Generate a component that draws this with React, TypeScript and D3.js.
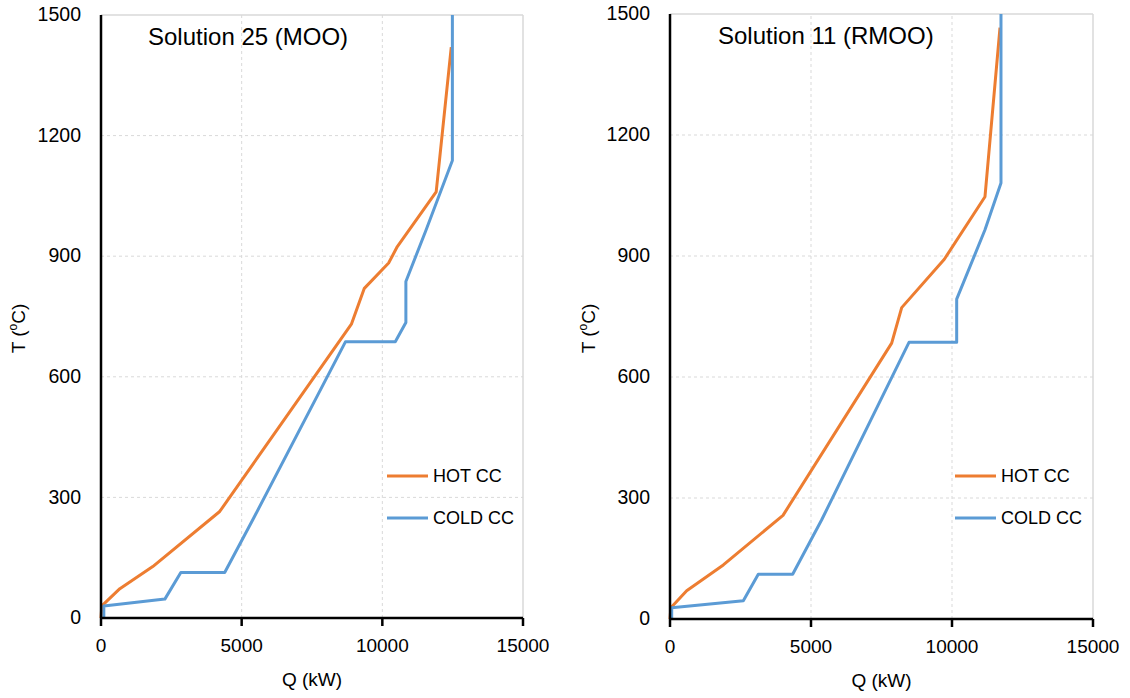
import React from "react";
import * as d3 from "d3";

const qTicks = [0, 5000, 10000, 15000];
const tTicks = [0, 300, 600, 900, 1200, 1500];
const legendLabels = ["HOT CC", "COLD CC"];

// Solution 25 (MOO)
const mooHotQ = [0, 30, 670, 1840, 4220, 8900, 9360, 10224, 10533, 11914, 12450];
const mooHotT = [0, 30, 73, 128, 265, 731, 820, 883, 924, 1060, 1420];
const mooColdQ = [100, 100, 2270, 2837, 4397, 5400, 8688, 10460, 10837, 10837, 11548, 12490, 12490];
const mooColdT = [0, 30, 47, 113, 113, 245, 687, 687, 735, 837, 964, 1138, 1500];

// Solution 11 (RMOO)
const rmooHotQ = [0, 30, 591, 1891, 4007, 7861, 8216, 9728, 11170, 11702];
const rmooHotT = [0, 28, 70, 134, 257, 684, 772, 892, 1047, 1466];
const rmooColdQ = [60, 60, 2600, 3131, 4350, 5380, 8475, 10166, 10166, 11170, 11737, 11737];
const rmooColdT = [0, 28, 45, 111, 111, 246, 686, 686, 793, 965, 1081, 1500];

const HOT = "#ED7D31";
const COLD = "#5B9BD5";
const FONT = "'Liberation Sans', Arial, sans-serif";

type Pt = [number, number];
const zip = (q: number[], t: number[]): Pt[] => q.map((v, i) => [v, t[i]]);

interface PanelProps {
  x0: number;
  x1: number;
  yTop: number;
  yBot: number;
  title: string;
  titleX: number;
  hot: Pt[];
  cold: Pt[];
  legendX: number;
  ylabelX: number;
}

function Panel(p: PanelProps) {
  const x = d3.scaleLinear().domain([0, 15000]).range([p.x0, p.x1]);
  const y = d3.scaleLinear().domain([0, 1500]).range([p.yBot, p.yTop]);
  const line = d3
    .line<Pt>()
    .x((d) => x(d[0]))
    .y((d) => y(d[1]));
  return (
    <g fontFamily={FONT}>
      {/* grid */}
      {tTicks.slice(1, -1).map((t) => (
        <line key={"gy" + t} x1={x(0)} x2={x(15000)} y1={y(t)} y2={y(t)} stroke="#d9d9d9" strokeWidth={1} strokeDasharray="3,3" />
      ))}
      {qTicks.slice(1, -1).map((q) => (
        <line key={"gx" + q} x1={x(q)} x2={x(q)} y1={y(0)} y2={y(1500)} stroke="#d9d9d9" strokeWidth={1} strokeDasharray="3,3" />
      ))}
      <line x1={x(0)} x2={x(15000)} y1={y(1500)} y2={y(1500)} stroke="#d9d9d9" strokeWidth={1.5} />
      <line x1={x(15000)} x2={x(15000)} y1={y(0)} y2={y(1500)} stroke="#d9d9d9" strokeWidth={1.5} />
      {/* series */}
      <path d={line(p.hot) || ""} fill="none" stroke={HOT} strokeWidth={3} strokeLinejoin="round" />
      <path d={line(p.cold) || ""} fill="none" stroke={COLD} strokeWidth={3} strokeLinejoin="round" />
      {/* axes */}
      <line x1={x(0)} x2={x(0)} y1={y(1500)} y2={y(0)} stroke="#000" strokeWidth={2.5} />
      <line x1={x(0) - 1} x2={x(15000)} y1={y(0)} y2={y(0)} stroke="#000" strokeWidth={2.5} />
      {qTicks.map((q) => (
        <line key={"tx" + q} x1={x(q)} x2={x(q)} y1={y(0)} y2={y(0) + 8} stroke="#000" strokeWidth={2.5} />
      ))}
      {qTicks.map((q) => (
        <text key={"lx" + q} x={x(q)} y={y(0) + 29} fontSize={19} textAnchor="middle" dominantBaseline="middle" fill="#000">
          {q}
        </text>
      ))}
      {tTicks.map((t) => (
        <text key={"ly" + t} x={x(0) - 20} y={y(t) + 1} fontSize={19.5} textAnchor="end" dominantBaseline="middle" fill="#000">
          {t}
        </text>
      ))}
      <text x={(x(0) + x(15000)) / 2} y={y(0) + 63} fontSize={19} textAnchor="middle" dominantBaseline="middle" fill="#000">
        Q (kW)
      </text>
      <text transform={`translate(${p.ylabelX},${(y(0) + y(1500)) / 2 + 12}) rotate(-90)`} fontSize={19} textAnchor="middle" dominantBaseline="middle" fill="#000">
        T (<tspan fontSize={12} dy={-6}>o</tspan>
        <tspan dy={6}>C)</tspan>
      </text>
      <text x={p.titleX} y={y(1500) + 24} fontSize={24} dominantBaseline="middle" fill="#000">
        {p.title}
      </text>
      {/* legend */}
      <line x1={p.legendX} x2={p.legendX + 41} y1={476} y2={476} stroke={HOT} strokeWidth={3} />
      <text x={p.legendX + 46} y={477} fontSize={18} dominantBaseline="middle" fill="#000">
        {legendLabels[0]}
      </text>
      <line x1={p.legendX} x2={p.legendX + 41} y1={518} y2={518} stroke={COLD} strokeWidth={3} />
      <text x={p.legendX + 46} y={519} fontSize={18} dominantBaseline="middle" fill="#000">
        {legendLabels[1]}
      </text>
    </g>
  );
}

export default function App() {
  return (
    <div style={{ position: "fixed", left: 0, top: 0, width: 1130, height: 698, background: "#fff" }}>
      <svg width={1130} height={698} viewBox="0 0 1130 698">
        <rect width={1130} height={698} fill="#fff" />
        <Panel
          x0={101}
          x1={523}
          yTop={15}
          yBot={618}
          title="Solution 25 (MOO)"
          titleX={148}
          hot={zip(mooHotQ, mooHotT)}
          cold={zip(mooColdQ, mooColdT)}
          legendX={387}
          ylabelX={20}
        />
        <Panel
          x0={670}
          x1={1093}
          yTop={14}
          yBot={619}
          title="Solution 11 (RMOO)"
          titleX={718}
          hot={zip(rmooHotQ, rmooHotT)}
          cold={zip(rmooColdQ, rmooColdT)}
          legendX={955}
          ylabelX={590}
        />
      </svg>
    </div>
  );
}
